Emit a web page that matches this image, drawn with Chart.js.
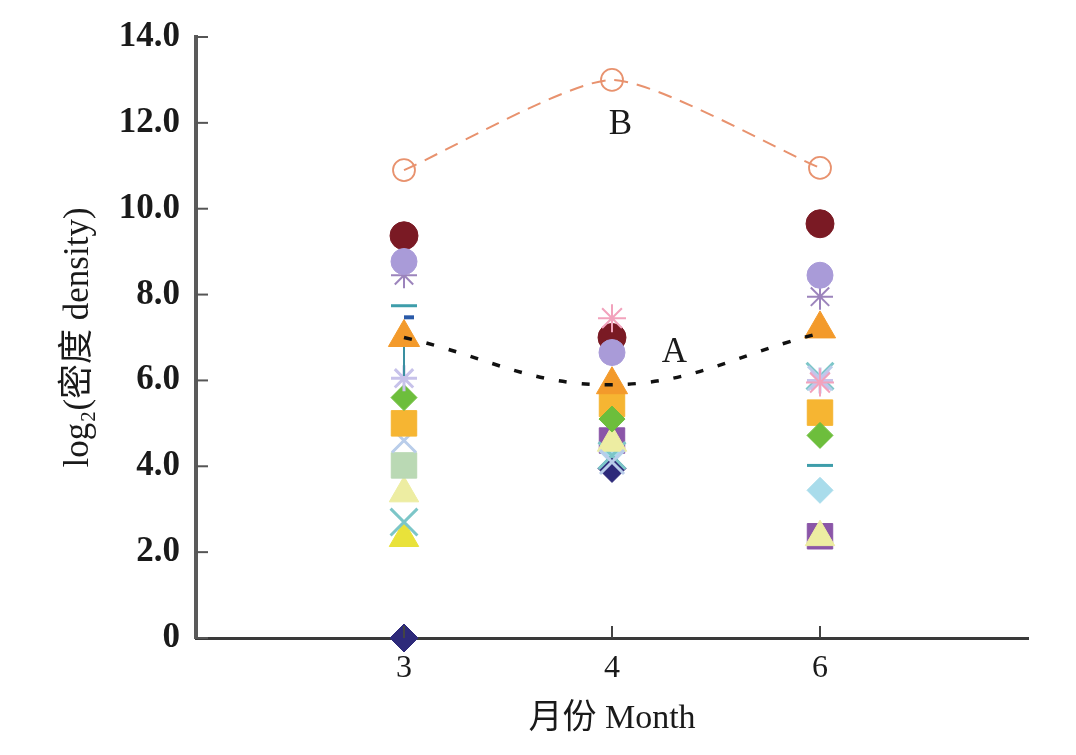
<!DOCTYPE html>
<html>
<head>
<meta charset="utf-8">
<script src="https://cdn.jsdelivr.net/npm/chart.js@4.4.1/dist/chart.umd.min.js"></script>
<style>
  html, body { margin: 0; padding: 0; background: #ffffff; }
  #wrap { width: 1076px; height: 755px; position: relative; }
</style>
</head>
<body>
<div id="wrap"><canvas id="c" width="1076" height="755"></canvas></div>
<script>
// ---------- data ----------
const months = ['3', '4', '6'];
const yTickLabels = ['0', '2.0', '4.0', '6.0', '8.0', '10.0', '12.0', '14.0'];
const xTitle = '月份 Month';
const yTitle = 'log\u2082(密度 density)';

// trend lines
const lineA = [7.0, 5.9, 7.1];
const lineB = [10.9, 13.0, 10.95];

// species values for months 3, 4, 6 (null = not present)
const pinkStar        = [null, 7.45, 5.95];
const maroonCircle    = [9.37, 7.0, 9.65];
const lavenderCircle  = [8.77, 6.65, 8.45];
const purpleStar      = [8.45, null, 7.95];
const tealDash        = [7.74, null, 4.02];
const blueDash        = [7.47, null, 9.62];
const orangeTriangle  = [7.0, 5.9, 7.2];
const tealVLine       = [6.45, null, null];
const paleLavStar     = [6.05, null, 6.0];
const greenDiamond    = [5.6, 5.1, 4.72];
const orangeSquare    = [5.0, 5.45, 5.25];
const lightBlueX      = [4.6, 4.1, 6.05];
const lightGreenSquare= [4.02, null, null];
const paleYellowTri   = [3.37, 4.55, 2.35];
const tealX           = [2.7, 4.25, 6.1];
const yellowTriangle  = [2.33, null, null];
const navyDiamond     = [0, 3.95, null];
const lightBlueDiamond= [null, 4.35, 3.44];
const purpleSquare    = [null, 4.6, 2.37];

// annotation labels (data coordinates)
const labelA = { x: 2.3, y: 6.65, text: 'A' };
const labelB = { x: 2.04, y: 11.95, text: 'B' };

// ---------- styles ----------
const species = [
  { v: pinkStar,         s: 'star',     c: '#F2A2BC', r: 14, w: 2 },
  { v: lavenderCircle,   s: 'circle',   c: '#A99BD8', r: 13 },
  { v: maroonCircle,     s: 'circle',   c: '#7A1A24', r: 14 },
  { v: purpleStar,       s: 'star',     c: '#9C84BC', r: 13, w: 2 },
  { v: tealDash,         s: 'line',     c: '#3E9DAA', r: 13, w: 3 },
  { v: blueDash,         s: 'dash',     c: '#2A5AA8', r: 10, w: 4 },
  { v: orangeTriangle,   s: 'triangle', c: '#F39A2B', r: 18 },
  { v: tealVLine,        s: 'line',     c: '#3A8FA0', r: 15, w: 2, rot: 90 },
  { v: paleLavStar,      s: 'star',     c: '#C7C2EA', r: 13, w: 3 },
  { v: greenDiamond,     s: 'rectRot',  c: '#6DBE3C', r: 13 },
  { v: orangeSquare,     s: 'rect',     c: '#F6B532', r: 18 },
  { v: lightBlueX,       s: 'crossRot', c: '#B9CDEA', r: 17, w: 3 },
  { v: lightGreenSquare, s: 'rect',     c: '#BAD9B4', r: 18 },
  { v: paleYellowTri,    s: 'triangle', c: '#EDEDA2', r: 17 },
  { v: tealX,            s: 'crossRot', c: '#7CC6C8', r: 19, w: 3 },
  { v: yellowTriangle,   s: 'triangle', c: '#E9E23A', r: 17 },
  { v: navyDiamond,      s: 'rectRot',  c: '#2E2A7A', r: 14 },
  { v: lightBlueDiamond, s: 'rectRot',  c: '#A9DCEB', r: 13 },
  { v: purpleSquare,     s: 'rect',     c: '#8B56A8', r: 18 }
];

function toPoints(values) {
  const pts = [];
  values.forEach((v, i) => { if (v !== null) pts.push({ x: i + 1, y: v }); });
  return pts;
}

const datasets = [
  {
    data: toPoints(lineA), showLine: true, borderColor: '#111111', borderWidth: 3.5,
    borderDash: [8, 15], tension: 0.4, pointRadius: 0, fill: false, clip: false
  },
  {
    data: toPoints(lineB), showLine: true, borderColor: '#E8926E', borderWidth: 2,
    borderDash: [14, 9], tension: 0.2, pointRadius: 11, pointStyle: 'circle',
    pointBackgroundColor: 'rgba(0,0,0,0)', pointBorderColor: '#E8926E', pointBorderWidth: 1.8,
    fill: false, clip: false
  }
];
species.forEach(sp => {
  const stroked = ['star', 'line', 'dash', 'crossRot', 'cross'].includes(sp.s);
  datasets.push({
    data: toPoints(sp.v), showLine: false, clip: false,
    pointStyle: sp.s, pointRadius: sp.r, pointRotation: sp.rot || 0,
    pointBackgroundColor: sp.c, pointBorderColor: sp.c,
    pointBorderWidth: stroked ? (sp.w || 2) : 1
  });
});

// ---------- plugin: inward tick marks + A/B labels ----------
const extras = {
  id: 'extras',
  afterDraw(chart) {
    const ctx = chart.ctx;
    const xs = chart.scales.x, ys = chart.scales.y;
    const area = chart.chartArea;
    ctx.save();
    ctx.strokeStyle = '#555555';
    ctx.lineWidth = 2;
    ys.ticks.forEach(t => {
      const py = ys.getPixelForValue(t.value);
      ctx.beginPath(); ctx.moveTo(area.left, py); ctx.lineTo(area.left + 12, py); ctx.stroke();
    });
    ctx.strokeStyle = '#444444';
    months.forEach((m, i) => {
      const px = xs.getPixelForValue(i + 1);
      ctx.beginPath(); ctx.moveTo(px, area.bottom); ctx.lineTo(px, area.bottom - 12); ctx.stroke();
    });
    ctx.fillStyle = '#1a1a1a';
    ctx.font = '35px "Liberation Serif", "Noto Sans CJK SC", serif';
    ctx.textAlign = 'center';
    ctx.textBaseline = 'middle';
    [labelA, labelB].forEach(l => {
      ctx.fillText(l.text, xs.getPixelForValue(l.x), ys.getPixelForValue(l.y));
    });
    ctx.restore();
  }
};

const serif = '"Liberation Serif", "Noto Sans CJK SC", serif';

new Chart(document.getElementById('c'), {
  type: 'scatter',
  data: { datasets },
  options: {
    responsive: false,
    animation: false,
    events: [],
    layout: { padding: { top: 36, right: 48, left: 0, bottom: 0 } },
    plugins: { legend: { display: false }, tooltip: { enabled: false } },
    scales: {
      x: {
        type: 'linear', min: 0, max: 4,
        afterBuildTicks(scale) { scale.ticks = months.map((m, i) => ({ value: i + 1 })); },
        afterFit(scale) { scale.height = 117; },
        ticks: {
          autoSkip: false, maxRotation: 0, padding: 11, color: '#1a1a1a',
          font: { family: serif, size: 32 },
          callback: (v) => months[v - 1] !== undefined ? months[v - 1] : ''
        },
        grid: { display: false, drawTicks: false },
        border: { display: true, color: '#3a3a3a', width: 3 },
        title: {
          display: true, text: xTitle, color: '#1a1a1a',
          font: { family: serif, size: 34 }, padding: { top: 0, bottom: 16 }
        }
      },
      y: {
        type: 'linear', min: 0, max: 14,
        afterBuildTicks(scale) { scale.ticks = yTickLabels.map((l, i) => ({ value: i * 2 })); },
        afterFit(scale) { scale.width = 196; },
        ticks: {
          padding: 16, color: '#1a1a1a',
          font: { family: serif, size: 35, weight: 'bold' },
          callback: (v) => yTickLabels[Math.round(v / 2)]
        },
        grid: { display: false, drawTicks: false },
        border: { display: true, color: '#5a5a5a', width: 4 },
        title: {
          display: true, text: yTitle, color: '#1a1a1a',
          font: { family: serif, size: 35 }, padding: { top: 58, bottom: 0 }
        }
      }
    }
  },
  plugins: [extras]
});
</script>
</body>
</html>
